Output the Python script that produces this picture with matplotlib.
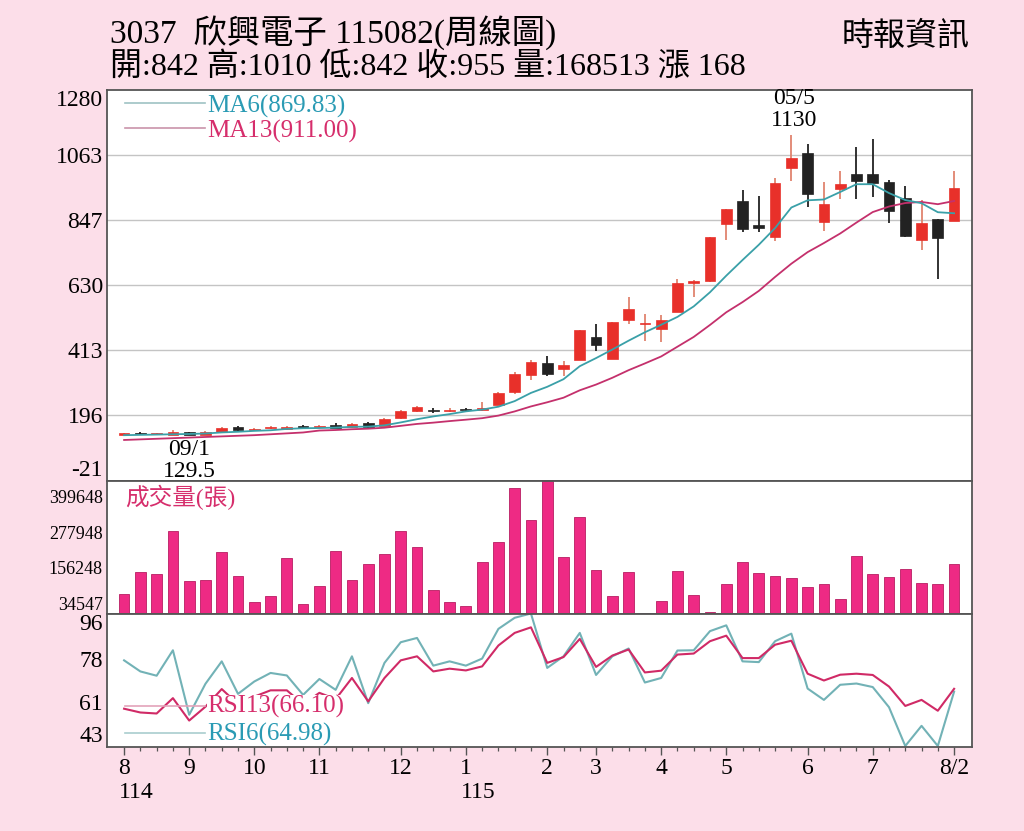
import numpy as np
import pandas as pd
import matplotlib
matplotlib.use("Agg")
import matplotlib.pyplot as plt
from matplotlib.lines import Line2D

plt.rcParams['font.family'] = ['Liberation Serif', 'Noto Sans CJK TC', 'DejaVu Sans']

# ---------------- data ----------------
opens  = [132, 138, 133, 131, 139, 131, 139, 158, 146, 153, 149, 161, 157, 164, 156, 171, 162, 186, 209, 214,
          211, 218, 214, 232, 275, 330, 372, 352, 382, 458, 385, 515, 500, 485, 542, 636, 642, 833, 909, 829,
          790, 1020, 1070, 839, 949, 1000, 1000, 973, 920, 779, 849, 842]
highs  = [137, 141, 138, 147, 142, 143, 158, 162, 155, 162, 161, 164, 164, 170, 171, 173, 186, 214, 228, 221,
          219, 222, 242, 275, 342, 380, 395, 378, 482, 501, 508, 590, 535, 530, 650, 648, 790, 885, 946, 928,
          986, 1130, 1100, 973, 1010, 1090, 1116, 980, 959, 915, 850, 1010]
lows   = [130, 131, 131, 130, 129.5, 130, 137, 143, 144, 150, 147, 152, 155, 153, 154, 155, 160, 184, 207, 204,
          208, 210, 211, 229, 268, 315, 327, 328, 380, 412, 383, 500, 445, 440, 540, 590, 640, 779, 806, 808,
          776, 976, 889, 809, 916, 916, 923, 836, 790, 746, 649, 842]
closes = [133, 133, 134, 142, 131, 140, 155, 146, 152, 154, 158, 154, 159, 155, 167, 158, 184, 212, 223, 211,
          213, 213, 219, 270, 335, 375, 335, 365, 479, 432, 506, 552, 503, 515, 636, 642, 789, 883, 816, 820,
          970, 1053, 933, 899, 966, 976, 970, 876, 793, 836, 786, 955]
volumes = [66700, 141000, 136000, 282000, 111000, 114000, 210000, 129000, 39000, 59000, 190000, 31000, 94000,
           214000, 114000, 168000, 202000, 281000, 229000, 80000, 41000, 25000, 176000, 245000, 431000, 321000,
           455000, 192000, 331000, 148000, 59000, 141000, 3000, 44000, 144000, 64000, 6000, 100000, 177000,
           137000, 129000, 120000, 89000, 101000, 48000, 198000, 135000, 124000, 152000, 105000, 102000, 168513]
rsi6 = [77.4, 73.0, 71.3, 81.4, 55.8, 68.1, 77.0, 64.1, 69.0, 72.4, 71.4, 63.7, 70.0, 65.7, 79.0, 60.4, 76.4,
        84.6, 86.3, 75.3, 77.0, 75.3, 78.1, 89.9, 94.3, 96.0, 74.4, 79.0, 88.3, 71.6, 79.0, 82.1, 68.6, 70.4,
        81.3, 81.4, 89.0, 91.3, 77.0, 76.7, 85.0, 88.0, 66.2, 61.7, 67.7, 68.2, 66.8, 58.8, 43.4, 51.4, 43.4, 64.98]
rsi13 = [58.2, 56.7, 56.3, 62.4, 53.5, 59.0, 66.0, 60.0, 63.0, 65.5, 65.5, 60.0, 64.5, 62.0, 70.4, 61.1, 70.4,
         77.4, 79.0, 73.0, 74.1, 73.4, 75.0, 83.3, 88.3, 90.5, 76.4, 78.7, 85.9, 74.8, 79.3, 81.7, 72.6, 73.3,
         79.7, 80.1, 85.0, 87.2, 78.3, 78.3, 83.6, 85.2, 72.1, 69.4, 71.7, 72.1, 71.6, 67.0, 59.3, 61.7, 57.4, 66.10]
ma6_head = [130, 131, 132, 133, 134]
ma13_head = [114, 116, 118, 120, 122, 124, 126, 128, 130, 133, 136, 139]

month_pos = [0, 4, 8, 12, 17, 21, 26, 29, 33, 37, 42, 46, 51]
month_labels = ['8', '9', '10', '11', '12', '1', '2', '3', '4', '5', '6', '7', '8/2']
year_labels = {0: '114', 21: '115'}

price_ticks = [-21, 196, 413, 630, 847, 1063, 1280]
vol_ticks = [34547, 156248, 277948, 399648]
rsi_ticks = [43, 61, 78, 96]

# ---------------- derived ----------------
n = len(closes)
x = np.arange(n)
o = np.array(opens, float); c = np.array(closes, float)
h = np.array(highs, float); l = np.array(lows, float)
ma6 = pd.Series(c).rolling(6).mean().to_numpy()
ma6[:len(ma6_head)] = ma6_head
ma13 = pd.Series(c).rolling(13).mean().to_numpy()
ma13[:len(ma13_head)] = ma13_head

BG = '#FCDEE9'
RED = '#E8302A'
RED_WICK = '#E0836E'
BLK = '#222222'
TEAL = '#3AA0A8'
MAG = '#C4306C'
TXT_TEAL = '#2A9BB4'
TXT_MAG = '#D62E6C'
PINK_BAR = '#EE2A84'
SPINE = '#555555'

W, H = 1024, 831
fig = plt.figure(figsize=(W / 100, H / 100), dpi=100, facecolor=BG)

def rect(top, bottom, left=107, right=972):
    return [left / W, 1 - bottom / H, (right - left) / W, (bottom - top) / H]

ax_p = fig.add_axes(rect(90, 480.5))
ax_v = fig.add_axes(rect(480.5, 613.5))
ax_r = fig.add_axes(rect(613.5, 747))

xlim = (-1.05, 52.1)
for ax in (ax_p, ax_v, ax_r):
    ax.set_facecolor('white')
    ax.set_xlim(*xlim)
    for s in ax.spines.values():
        s.set_color(SPINE)
        s.set_linewidth(1.3)
    ax.tick_params(axis='y', length=0, labelsize=17, pad=3)

# ---------------- price panel ----------------
ax_p.set_ylim(-21, 1280)
ax_p.set_yticks(price_ticks)
ax_p.set_yticklabels([str(t) for t in price_ticks])
for t in ax_p.get_yticklabels():
    if t.get_text() == '1280':
        t.set_va('top')
    elif t.get_text() == '-21':
        t.set_va('bottom')
for g in price_ticks[1:-1]:
    ax_p.axhline(g, color='#C4C4C4', lw=1.0, zorder=0)
ax_p.set_xticks([])

up = c >= o
body_lo = np.minimum(o, c)
body_h = np.maximum(np.abs(c - o), 4)
ax_p.vlines(x[up], l[up], h[up], color=RED_WICK, lw=1.3, zorder=2)
ax_p.vlines(x[~up], l[~up], h[~up], color=BLK, lw=1.3, zorder=2)
ax_p.bar(x[up], body_h[up], bottom=body_lo[up], width=0.66, color=RED, edgecolor=RED, lw=0.5, zorder=3)
ax_p.bar(x[~up], body_h[~up], bottom=body_lo[~up], width=0.66, color=BLK, edgecolor=BLK, lw=0.5, zorder=3)
ax_p.plot(x, ma13, color=MAG, lw=1.3, zorder=4)
ax_p.plot(x, ma6, color=TEAL, lw=1.3, zorder=5)

ax_p.add_line(Line2D([0.021, 0.113], [0.967, 0.967], transform=ax_p.transAxes, color='#9EC2C4', lw=1.2))
ax_p.add_line(Line2D([0.021, 0.113], [0.903, 0.903], transform=ax_p.transAxes, color='#C994AA', lw=1.2))
ax_p.text(0.1156, 0.958, 'MA6(869.83)', transform=ax_p.transAxes,
          color=TXT_TEAL, fontsize=18, va='center', ha='left', zorder=6)
ax_p.text(0.1156, 0.893, 'MA13(911.00)', transform=ax_p.transAxes,
          color=TXT_MAG, fontsize=18, va='center', ha='left', zorder=6)

i_hi = int(np.argmax(h)); i_lo = int(np.argmin(l))
ax_p.annotate('05/5\n1130', xy=(x[i_hi], h[i_hi]), xytext=(2, 3), textcoords='offset points',
              ha='center', va='bottom', fontsize=17, linespacing=1.05, zorder=6)
ax_p.annotate('09/1\n129.5', xy=(x[i_lo], l[i_lo]), xytext=(0, -3), textcoords='offset points',
              ha='center', va='top', fontsize=17, linespacing=1.05, zorder=6)

# ---------------- volume panel ----------------
ax_v.set_ylim(0, 455000)
ax_v.bar(x, volumes, width=0.66, color=PINK_BAR, edgecolor='#B81D62', lw=0.6, zorder=2)
ax_v.set_yticks(vol_ticks)
ax_v.set_yticklabels([str(t) for t in vol_ticks])
ax_v.tick_params(axis='y', labelsize=13)
ax_v.set_xticks([])
ax_v.text(0.021, 0.876, '成交量(張)', transform=ax_v.transAxes, color=TXT_MAG, fontsize=17,
          va='center', ha='left', zorder=5)

# ---------------- RSI panel ----------------
ax_r.set_ylim(43, 96)
ax_r.plot(x, rsi13, color='#D02A66', lw=1.5, zorder=3)
ax_r.plot(x, rsi6, color='#72B2B6', lw=1.5, zorder=2)
ax_r.set_yticks(rsi_ticks)
ax_r.set_yticklabels([str(t) for t in rsi_ticks])
for t in ax_r.get_yticklabels():
    if t.get_text() == '96':
        t.set_va('top')
    elif t.get_text() == '43':
        t.set_va('bottom')
ax_r.add_line(Line2D([0.021, 0.113], [0.307, 0.307], transform=ax_r.transAxes, color='#E3A3BA', lw=1.2, zorder=4))
ax_r.add_line(Line2D([0.021, 0.113], [0.103, 0.103], transform=ax_r.transAxes, color='#A9CDCE', lw=1.2, zorder=4))
bb = dict(facecolor='white', edgecolor='none', pad=0)
ax_r.text(0.1156, 0.30, 'RSI13(66.10)', transform=ax_r.transAxes, color=TXT_MAG, fontsize=18,
          va='center', ha='left', zorder=5, bbox=bb)
ax_r.text(0.1156, 0.095, 'RSI6(64.98)', transform=ax_r.transAxes, color=TXT_TEAL, fontsize=18,
          va='center', ha='left', zorder=5, bbox=bb)

ax_r.set_xticks(month_pos)
ax_r.set_xticklabels(month_labels)
ax_r.set_xticks(x, minor=True)
ax_r.tick_params(axis='x', which='major', length=6, width=1.0, color=SPINE, labelsize=17, pad=2)
ax_r.tick_params(axis='x', which='minor', length=3, width=0.9, color=SPINE)
for pos, lab in year_labels.items():
    ax_r.text(pos - 0.3, -0.265, lab, transform=ax_r.get_xaxis_transform(), ha='left', va='top', fontsize=17)

# ---------------- header ----------------
fig.text(110 / W, 1 - 33 / H, '3037  欣興電子 115082(周線圖)', fontsize=24, ha='left', va='center')
fig.text(110 / W, 1 - 68 / H, '開:842 高:1010 低:842 收:955 量:168513 漲 168', fontsize=23, ha='left', va='center')
fig.text(970 / W, 1 - 37 / H, '時報資訊', fontsize=23, ha='right', va='center')

fig.savefig('out.png', dpi=100, facecolor=BG)
